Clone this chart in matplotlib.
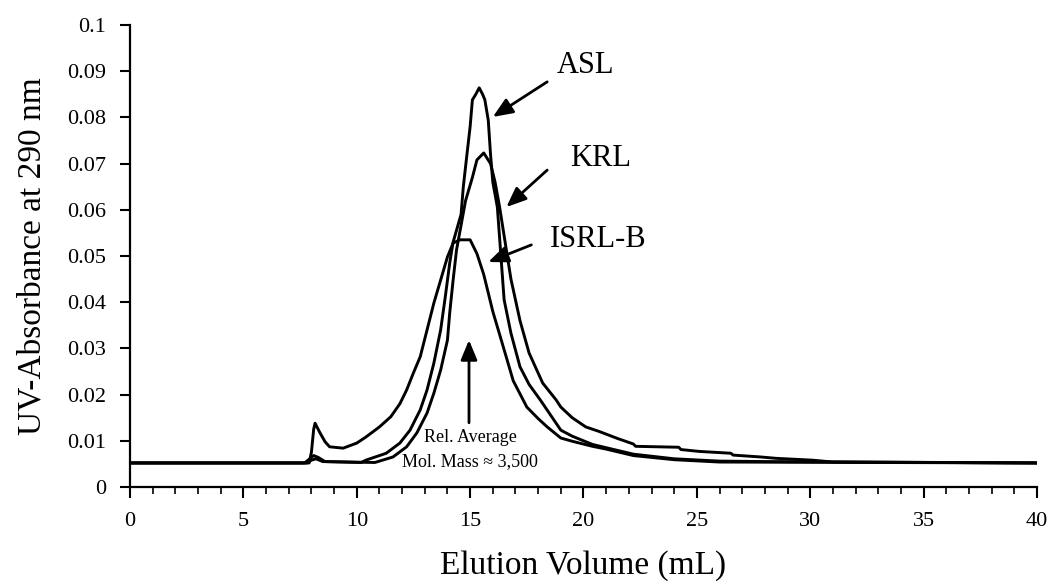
import matplotlib
matplotlib.use("Agg")
import matplotlib.pyplot as plt
from matplotlib.ticker import MultipleLocator

plt.rcParams['font.family'] = ['Liberation Serif', 'DejaVu Serif']

# ---- data ----
isrl_x = [0, 7.9, 8.0, 8.1, 8.16, 8.38, 8.6, 8.8, 9.4, 10.0, 10.4, 11.0, 11.5, 11.9,
          12.2, 12.5, 12.8, 13.1, 13.4, 13.7, 14.0, 14.25, 14.55, 15.0, 15.3, 15.6,
          16.0, 16.5, 16.9, 17.5, 18.0, 18.4, 19.0, 19.5, 20.4, 21.0, 22.2, 24.0, 26.0, 40]
isrl_y = [0.0052, 0.0052, 0.0075, 0.0125, 0.0138, 0.0117, 0.0098, 0.0087, 0.0084, 0.0095,
          0.0108, 0.0130, 0.0152, 0.0180, 0.0210, 0.0247, 0.0282, 0.0340, 0.0398, 0.0448,
          0.0498, 0.0528, 0.0535, 0.0535, 0.0505, 0.0460, 0.0380, 0.0297, 0.0230, 0.0173,
          0.0148, 0.0130, 0.0106, 0.0099, 0.0088, 0.0082, 0.0068, 0.0059, 0.0054, 0.0052]

asl_x = [0, 7.7, 7.9, 8.1, 8.3, 8.6, 10.2, 10.4, 11.3, 11.9, 12.35, 12.8, 13.1, 13.4,
         13.7, 13.9, 14.1, 14.25, 14.6, 14.7, 14.86, 15.0, 15.1, 15.25, 15.4, 15.55,
         15.65, 15.8, 15.9, 16.0, 16.2, 16.5, 16.8, 17.2, 17.6, 18.1, 19.0, 19.5, 20.4,
         21.0, 22.2, 24.0, 26.0, 28.0, 40]
asl_y = [0.0052, 0.0052, 0.0060, 0.0068, 0.0064, 0.0055, 0.0053, 0.0058, 0.0073, 0.0095,
         0.0123, 0.0167, 0.0210, 0.0268, 0.0340, 0.0410, 0.0485, 0.0530, 0.0590, 0.0650,
         0.0720, 0.0780, 0.0838, 0.0850, 0.0864, 0.0850, 0.0838, 0.0794, 0.0720, 0.0660,
         0.0606, 0.0405, 0.0333, 0.0260, 0.0222, 0.0188, 0.0123, 0.0110, 0.0092, 0.0085,
         0.0071, 0.0061, 0.0056, 0.0055, 0.0052]

krl_x = [0, 7.8, 8.0, 8.2, 8.5, 10.8, 11.6, 12.2, 12.65, 13.1, 13.4, 13.7, 14.0, 14.1,
         14.25, 14.4, 14.8, 15.1, 15.3, 15.6, 15.9, 16.1, 16.3, 16.8, 17.2, 17.6, 18.2,
         18.8, 19.0, 19.5, 20.1, 20.7, 21.5, 22.2, 22.3, 24.2, 24.3, 25.1, 26.5, 26.6,
         27.8, 28.5, 30.1, 31.0, 40]
krl_y = [0.0052, 0.0052, 0.0058, 0.0061, 0.0055, 0.0053, 0.0065, 0.0087, 0.0117, 0.0160,
         0.0203, 0.0253, 0.0318, 0.0377, 0.0448, 0.0513, 0.0620, 0.0670, 0.0708, 0.0723,
         0.0700, 0.0660, 0.0606, 0.0450, 0.0360, 0.0290, 0.0225, 0.0188, 0.0173, 0.0150,
         0.0130, 0.0120, 0.0105, 0.0093, 0.0088, 0.0086, 0.0081, 0.0077, 0.0073, 0.0069,
         0.0065, 0.0062, 0.0058, 0.0054, 0.0052]

x_ticks = [0, 5, 10, 15, 20, 25, 30, 35, 40]
y_ticks = [0, 0.01, 0.02, 0.03, 0.04, 0.05, 0.06, 0.07, 0.08, 0.09, 0.1]
y_tick_labels = ["0", "0.01", "0.02", "0.03", "0.04", "0.05", "0.06", "0.07", "0.08", "0.09", "0.1"]

fig = plt.figure(figsize=(10.52, 5.87), dpi=100)
ax = fig.add_axes([0.1236, 0.1704, 0.8621, 0.7870])

for xs, ys in [(isrl_x, isrl_y), (asl_x, asl_y), (krl_x, krl_y)]:
    ax.plot(xs, ys, color='black', lw=2.1, solid_joinstyle='round')

ax.set_xlim(0, 40)
ax.set_ylim(0, 0.1)
ax.spines['top'].set_visible(False)
ax.spines['right'].set_visible(False)
ax.spines['left'].set_linewidth(1.6)
ax.spines['bottom'].set_linewidth(1.6)

ax.set_xticks(x_ticks)
ax.set_xticklabels([str(v) for v in x_ticks])
ax.xaxis.set_minor_locator(MultipleLocator(1))
ax.set_yticks(y_ticks)
ax.set_yticklabels(y_tick_labels)
ax.tick_params(axis='x', which='major', direction='out', length=8, width=1.5,
               labelsize=16, pad=10)
ax.tick_params(axis='x', which='minor', direction='out', length=5, width=1.2)
ax.tick_params(axis='y', which='major', direction='out', length=7, width=1.5,
               labelsize=16, pad=10)

ax.set_xlabel("Elution Volume (mL)", fontsize=24, labelpad=14)
ax.set_ylabel("UV-Absorbance at 290 nm", fontsize=24, labelpad=14)

arrow = dict(arrowstyle='-|>,head_length=1.2,head_width=0.5', color='black', lw=2.0,
             shrinkA=0, shrinkB=0)
ax.annotate("", xy=(16.0, 0.0801), xytext=(18.4, 0.0877), arrowprops=arrow)
ax.text(18.8, 0.0913, "ASL", fontsize=22, va='center', ha='left')
ax.annotate("", xy=(16.6, 0.0606), xytext=(18.4, 0.0686), arrowprops=arrow)
ax.text(19.4, 0.0712, "KRL", fontsize=22, va='center', ha='left')
ax.annotate("", xy=(15.8, 0.0487), xytext=(17.7, 0.0524), arrowprops=arrow)
ax.text(18.5, 0.0535, "ISRL-B", fontsize=22, va='center', ha='left')

ax.annotate("", xy=(14.95, 0.0318), xytext=(14.95, 0.0139), arrowprops=arrow)
ax.text(15.0, 0.0108, "Rel. Average", fontsize=13, ha='center', va='center')
ax.text(15.0, 0.0054, "Mol. Mass \u2248 3,500", fontsize=13, ha='center', va='center')

fig.savefig("out.png", dpi=100)
